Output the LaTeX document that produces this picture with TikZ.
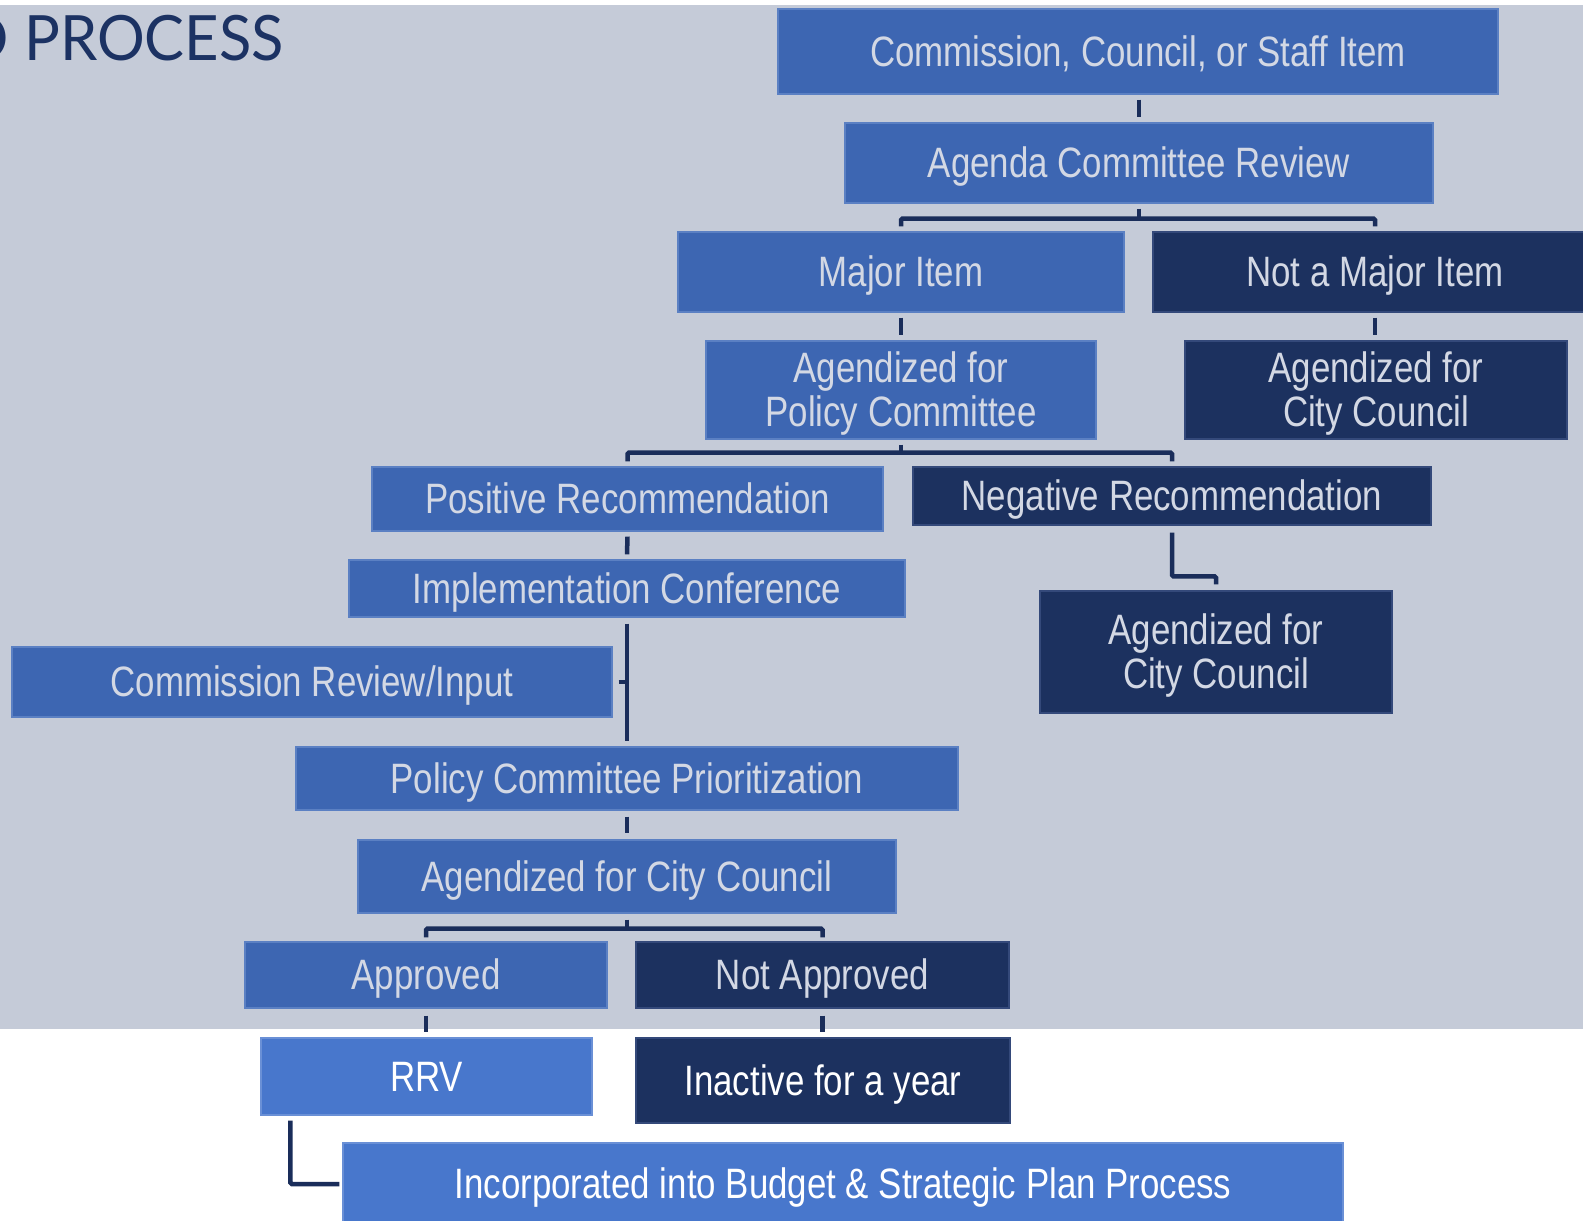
\documentclass[tikz,border=0pt]{standalone}
\usepackage{fontspec}
\setmainfont{Liberation Sans}[FakeStretch=0.82]
\newfontfamily\titlefont{Lato}
\usetikzlibrary{calc}
\definecolor{bgc}{HTML}{C5CBD8}
\definecolor{midblue}{HTML}{3D66B2}
\definecolor{midline}{HTML}{5B80C3}
\definecolor{navy}{HTML}{1C315F}
\definecolor{navyline}{HTML}{34497A}
\definecolor{brightblue}{HTML}{4877CC}
\definecolor{brightline}{HTML}{6A90D6}
\definecolor{lighttext}{HTML}{D3D8E4}
\definecolor{conncol}{HTML}{1A2D5A}
\definecolor{titlec}{HTML}{1C3263}
\newcommand{\twolines}[2]{\begin{tabular}[t]{@{}c@{}}#1\\#2\end{tabular}}
\tikzset{
 basebox/.style={rectangle, inner sep=0pt, font=\fontsize{42.5pt}{44.5pt}\selectfont, line width=1.2pt, text height=31pt, text depth=2pt},
 twoline/.style={text height=31pt, text depth=46.5pt},
 midbox/.style={basebox, fill=midblue, draw=midline, text=lighttext},
 navybox/.style={basebox, fill=navy, draw=navyline, text=lighttext},
 brightbox/.style={basebox, fill=brightblue, draw=brightline, text=white},
 navywhite/.style={basebox, fill=navy, draw=navyline, text=white},
 link/.style={draw=conncol, line width=4.5pt, rounded corners=1.5pt},
 sz/.style 2 args={minimum width=#1pt, minimum height=#2pt},
 titletext/.style={inner sep=0pt, text=titlec, font=\titlefont\fontsize{62.5pt}{62.5pt}\selectfont},
}
\begin{document}
\begin{tikzpicture}[x=1pt,y=-1pt]
\useasboundingbox (0,0) rectangle (1583,1221);
\clip (0,0) rectangle (1583,1221);
\fill[white] (0,0) rectangle (1583,1221);
\fill[bgc] (0,5) rectangle (1583,1029);

% title
\node[titletext, anchor=base west] (title) at (24,60) {\scalebox{0.955}[1]{PROCESS}};
\node[titletext, anchor=base east] (title0) at (9,60) {D};

% boxes
\node[midbox, sz={720}{85}] (c1) at (1138,51.5) {Commission, Council, or Staff Item};
\node[midbox, sz={588}{80}] (c2) at (1139,163) {Agenda Committee Review};
\node[midbox, sz={446}{80}] (major) at (901,272) {Major Item};
\node[navybox, sz={444}{80}] (notmajor) at (1375,272) {Not a Major Item};
\node[midbox, twoline, sz={390}{98}] (agpol) at (901,390) {\twolines{Agendized for}{Policy Committee}};
\node[navybox, twoline, sz={382}{98}] (agcca) at (1376,390) {\twolines{Agendized for}{City Council}};
\node[midbox, sz={511}{64}] (pos) at (627.5,499) {Positive Recommendation};
\node[navybox, sz={518}{58}] (neg) at (1172,496) {Negative Recommendation};
\node[midbox, sz={556}{57}] (impl) at (627,588.5) {Implementation Conference};
\node[navybox, twoline, sz={352}{122}] (agccb) at (1216,652) {\twolines{Agendized for}{City Council}};
\node[midbox, sz={600}{70}] (comrev) at (312,682) {Commission Review/Input};
\node[midbox, sz={662}{63}] (prio) at (627,778.5) {Policy Committee Prioritization};
\node[midbox, sz={538}{73}] (agccc) at (627,876.5) {Agendized for City Council};
\node[midbox, sz={362}{66}] (appr) at (426,975) {Approved};
\node[navybox, sz={373}{66}] (notappr) at (822.5,975) {Not Approved};
\node[brightbox, sz={331}{77}] (rrv) at (426.5,1076.5) {RRV};
\node[navywhite, sz={374}{85}] (inactive) at (823,1080.5) {Inactive for a year};
\node[brightbox, sz={1000}{82}] (incorp) at (843,1184) {Incorporated into Budget \& Strategic Plan Process};

% connectors
\draw[link] ($(c1.south -| c2.north)+(0,5)$) -- ($(c2.north)+(0,-5)$);
\draw[link] ($(c2.south)+(0,5)$) -- ($(c2.south)+(0,15)$);
\draw[link] ($(major.north)+(0,-5)$) |- ($(c2.south)+(0,15)$) -| ($(notmajor.north)+(0,-5)$);
\draw[link] ($(major.south)+(0,5)$) -- ($(agpol.north)+(0,-5)$);
\draw[link] ($(notmajor.south)+(0,5)$) -- ($(notmajor.south |- agcca.north)+(0,-5)$);
\draw[link] ($(agpol.south)+(0,5)$) -- ($(agpol.south)+(0,13)$);
\draw[link] ($(pos.north)+(0,-5)$) |- ($(agpol.south)+(0,13)$) -| ($(neg.north)+(0,-5)$);
\draw[link] ($(pos.south)+(0,5)$) -- ($(impl.north)+(0,-5)$);
\draw[link] ($(neg.south)+(0,7)$) |- ($(agccb.north)+(0,-14)$) -- ($(agccb.north)+(0,-6)$);
\draw[link] ($(impl.south)+(0,6)$) -- ($(prio.north)+(0,-5)$);
\draw[link] ($(comrev.east)+(6,0)$) -- (comrev.east -| impl.south);
\draw[link] ($(prio.south)+(0,6)$) -- ($(agccc.north)+(0,-6)$);
\draw[link] ($(agccc.south)+(0,6)$) -- ($(agccc.south)+(0,15)$);
\draw[link] ($(appr.north)+(0,-4)$) |- ($(agccc.south)+(0,15)$) -| ($(notappr.north)+(0,-4)$);
\draw[link] ($(appr.south)+(0,7)$) -- ($(appr.south |- rrv.north)+(0,-5)$);
\draw[link] ($(notappr.south)+(0,7)$) -- ($(notappr.south |- inactive.north)+(0,-5)$);
\draw[link] ($(rrv.south west)+(30,5)$) |- ($(incorp.west)+(-3,0)$);
\end{tikzpicture}
\end{document}
